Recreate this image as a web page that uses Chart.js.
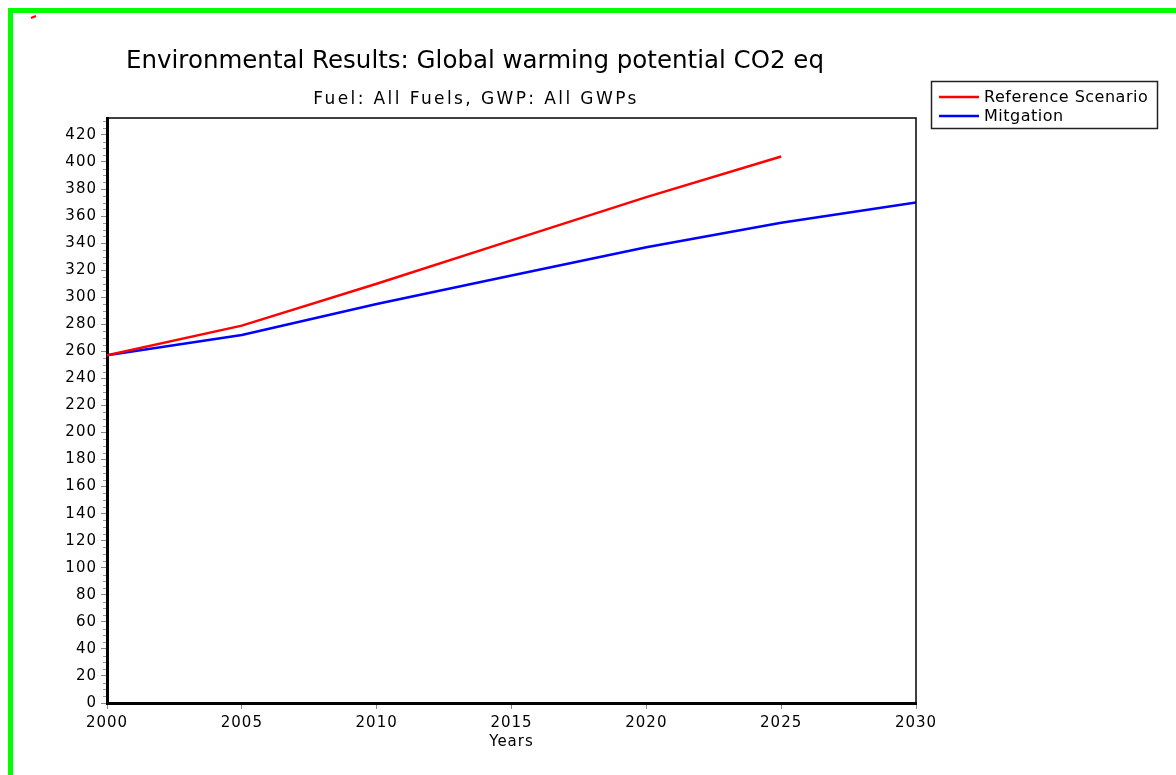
<!DOCTYPE html>
<html>
<head>
<meta charset="utf-8">
<script src="https://cdn.jsdelivr.net/npm/chart.js@4"></script>
<style>
  html, body { margin: 0; padding: 0; background: #fff; }
  #wrap { position: relative; width: 1176px; height: 775px; overflow: hidden; }
  #frame {
    position: absolute; left: 8px; top: 8px; width: 1300px; height: 900px;
    border-left: 5px solid #00ff00; border-top: 5px solid #00ff00;
  }
  canvas { position: absolute; left: 0; top: 0; }
</style>
</head>
<body>
<div id="wrap">
  <div id="frame"></div>
  <canvas id="chart" width="1176" height="775"></canvas>
</div>
<script>
// values
const years = [2000, 2005, 2010, 2015, 2020, 2025, 2030];
const referenceScenario = [257, 279, 310, 342, 374, 404, null];
const mitigation = [257, 272, 295, 316, 337, 355, 370];
const yTickValues = [0, 20, 40, 60, 80, 100, 120, 140, 160, 180, 200, 220, 240, 260, 280, 300, 320, 340, 360, 380, 400, 420];

const titleText = 'Environmental Results: Global warming potential CO2 eq';
const subtitleText = 'Fuel: All Fuels, GWP: All GWPs';
const FONT = '"DejaVu Sans", Verdana, sans-serif';

const toPoints = vals => years.map((x, i) => ({ x, y: vals[i] })).filter(p => p.y !== null);

// titles, legend box, top/right frame and minor ticks
const decorations = {
  id: 'decorations',
  beforeDraw(chart) {
    // the original text is drawn a bit wide
    chart.ctx.letterSpacing = '1px';
  },
  afterDraw(chart) {
    const { ctx, chartArea: a } = chart;
    const y = chart.scales.y;
    ctx.save();

    // thin top and right border of the plot
    ctx.strokeStyle = '#000';
    ctx.lineWidth = 1.5;
    ctx.beginPath();
    ctx.moveTo(a.left, a.top);
    ctx.lineTo(a.right, a.top);
    ctx.lineTo(a.right, a.bottom);
    ctx.stroke();

    // minor ticks on the y axis
    ctx.strokeStyle = '#999';
    ctx.lineWidth = 1;
    for (let v = 5; v < y.max; v += 5) {
      if (v % 20 === 0) continue;
      const py = Math.round(y.getPixelForValue(v)) + 0.5;
      ctx.beginPath();
      ctx.moveTo(a.left - 4, py);
      ctx.lineTo(a.left - 1, py);
      ctx.stroke();
    }

    // titles
    ctx.fillStyle = '#000';
    ctx.textAlign = 'center';
    ctx.textBaseline = 'middle';
    ctx.letterSpacing = '0px';
    ctx.font = '24.5px ' + FONT;
    ctx.fillText(titleText, 475, 62);
    ctx.letterSpacing = '2.4px';
    ctx.font = '17px ' + FONT;
    ctx.fillText(subtitleText, 476, 100);

    // legend
    ctx.strokeStyle = '#222';
    ctx.lineWidth = 1.5;
    ctx.strokeRect(931.5, 81.5, 226, 47);
    ctx.letterSpacing = '0.5px';
    ctx.font = '16px ' + FONT;
    ctx.textAlign = 'left';
    chart.data.datasets.forEach((ds, i) => {
      const ly = 97 + i * 19;
      ctx.strokeStyle = ds.borderColor;
      ctx.lineWidth = 2.5;
      ctx.beginPath();
      ctx.moveTo(939, ly);
      ctx.lineTo(979, ly);
      ctx.stroke();
      ctx.fillStyle = '#000';
      ctx.fillText(ds.label, 984, ly + 1);
    });

    // small red mark in the corner
    ctx.strokeStyle = '#ff0000';
    ctx.lineWidth = 2;
    ctx.beginPath();
    ctx.moveTo(31, 18);
    ctx.lineTo(36, 16);
    ctx.stroke();

    ctx.restore();
  }
};

new Chart(document.getElementById('chart'), {
  type: 'line',
  data: {
    datasets: [
      { label: 'Reference Scenario', data: toPoints(referenceScenario), borderColor: '#ff0000', borderWidth: 2.5, pointRadius: 0, tension: 0 },
      { label: 'Mitgation', data: toPoints(mitigation), borderColor: '#0000ff', borderWidth: 2.5, pointRadius: 0, tension: 0 },
    ]
  },
  options: {
    responsive: false,
    animation: false,
    layout: { padding: { left: 0, top: 118, right: 260, bottom: 0 } },
    plugins: { legend: { display: false }, title: { display: false }, tooltip: { enabled: false } },
    scales: {
      x: {
        type: 'linear', min: 2000, max: 2030,
        afterFit: s => { s.height = 72; },
        ticks: { stepSize: 5, padding: 5, color: '#000', font: { family: FONT, size: 15 }, callback: v => String(v) },
        grid: { display: true, drawOnChartArea: false, drawTicks: true, tickLength: 6, color: '#888' },
        border: { display: true, color: '#000', width: 3 },
        title: { display: true, text: 'Years', color: '#000', font: { family: FONT, size: 15 }, padding: { top: 0, bottom: 24 } }
      },
      y: {
        min: 0, max: 432.5,
        afterFit: s => { s.width = 107; },
        afterBuildTicks: s => { s.ticks = yTickValues.map(value => ({ value })); },
        ticks: { padding: 4, color: '#000', font: { family: FONT, size: 15 } },
        grid: { display: true, drawOnChartArea: false, drawTicks: true, tickLength: 6, color: '#888' },
        border: { display: true, color: '#000', width: 3 }
      }
    }
  },
  plugins: [decorations]
});
</script>
</body>
</html>
